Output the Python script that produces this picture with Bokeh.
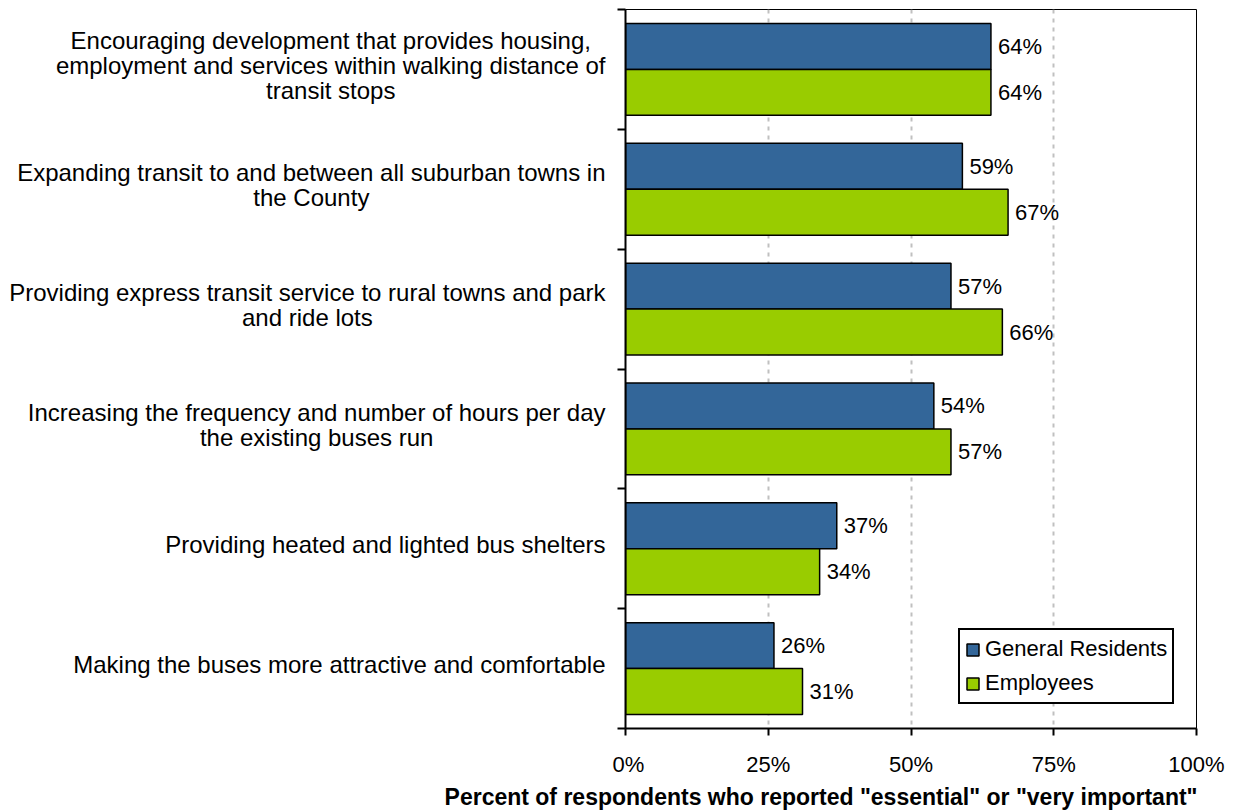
from bokeh.plotting import figure
from bokeh.models import Range1d, FixedTicker, Legend, LegendItem, ColumnDataSource
from bokeh.layouts import row, column
from bokeh.core.properties import value
from bokeh.embed import file_html
from bokeh.resources import INLINE

categories = [
    "Encouraging development that provides housing,\nemployment and services within walking distance of\ntransit stops",
    "Expanding transit to and between all suburban towns in\nthe County",
    "Providing express transit service to rural towns and park\nand ride lots",
    "Increasing the frequency and number of hours per day\nthe existing buses run",
    "Providing heated and lighted bus shelters",
    "Making the buses more attractive and comfortable",
]
residents = [64, 59, 57, 54, 37, 26]
employees = [64, 67, 66, 57, 34, 31]
series_names = ["General Residents", "Employees"]
x_ticks = [0, 25, 50, 75, 100]
x_tick_labels = ["0%", "25%", "50%", "75%", "100%"]
x_title = 'Percent of respondents who reported "essential" or "very important"'

FONT = "Liberation Sans"
BLUE = "#336699"
GREEN = "#99CC00"
CAT_FS = 24
FS = 22

# Arial/Helvetica advance widths (per 1000 em) to centre multi-line labels
_W = dict(zip("abcdefghijklmnopqrstuvwxyz",
              [556, 556, 500, 556, 556, 278, 556, 556, 222, 222, 500, 222, 833,
               556, 556, 556, 556, 333, 500, 278, 556, 500, 722, 500, 500, 500]))
_W.update(dict(zip("ABCDEFGHIJKLMNOPQRSTUVWXYZ",
                   [667, 667, 722, 722, 667, 611, 778, 722, 278, 500, 667, 556, 833,
                    722, 778, 667, 778, 722, 667, 611, 722, 667, 944, 667, 667, 611])))
_W.update({" ": 278, ",": 278, ".": 278, "-": 333})


def text_width(s, fs):
    return sum(_W.get(c, 556) for c in s) * fs / 1000.0


n = len(categories)
H = 779          # height of the chart row
TOP = 9
BOTTOM = 50
LEFT_W = 612
MAIN_W = 613
TITLE_H = 32
y_range = Range1d(n, 0)

# ---- left panel: category labels ----
lp = figure(width=LEFT_W, height=H, output_backend="svg", toolbar_location=None,
            x_range=Range1d(0, LEFT_W), y_range=y_range,
            x_axis_type=None, y_axis_type=None,
            min_border_left=0, min_border_right=0, min_border_top=TOP, min_border_bottom=BOTTOM)
lp.outline_line_color = None
lp.grid.visible = False
lp.background_fill_color = "white"
lp.border_fill_color = "white"

LH = 25
RIGHT_EDGE = 605
lx, ly, lt, lyo = [], [], [], []
for i, cat in enumerate(categories):
    lines = cat.split("\n")
    w = max(text_width(l, CAT_FS) for l in lines)
    cx = RIGHT_EDGE - w / 2
    m = len(lines)
    for k, line in enumerate(lines):
        lx.append(cx)
        ly.append(i + 0.5)
        lt.append(line)
        lyo.append((k - (m - 1) / 2) * LH - 4)
lsrc = ColumnDataSource(dict(x=lx, y=ly, t=lt, yo=lyo))
lp.text(x="x", y="y", text="t", y_offset="yo", source=lsrc,
        text_font=value(FONT), text_font_size=f"{CAT_FS}px", text_color="black",
        text_align="center", text_baseline="middle")

# ---- main plot ----
p = figure(width=MAIN_W, height=H, output_backend="svg", toolbar_location=None,
           x_range=Range1d(0, 100), y_range=y_range,
           min_border_left=13, min_border_right=29, min_border_top=TOP, min_border_bottom=BOTTOM)
p.background_fill_color = "white"
p.border_fill_color = "white"
p.outline_line_color = "black"
p.outline_line_width = 1

idx = list(range(n))
bh = 0.383
off = bh / 2
src_r = ColumnDataSource(dict(y=[i + 0.5 - off for i in idx], v=residents,
                              t=[f"{v}%" for v in residents]))
src_e = ColumnDataSource(dict(y=[i + 0.5 + off for i in idx], v=employees,
                              t=[f"{v}%" for v in employees]))

r1 = p.hbar(y="y", right="v", left=0, height=bh, source=src_r,
            fill_color=BLUE, line_color="black", line_width=1.5)
r2 = p.hbar(y="y", right="v", left=0, height=bh, source=src_e,
            fill_color=GREEN, line_color="black", line_width=1.5)

for s in (src_r, src_e):
    p.text(x="v", y="y", text="t", source=s, x_offset=7,
           text_font=value(FONT), text_font_size=f"{FS}px", text_color="black",
           text_baseline="middle", text_align="left")

# grid
p.ygrid.visible = False
p.xgrid.ticker = FixedTicker(ticks=[25, 50, 75])
p.xgrid.grid_line_color = "#c0c0c0"
p.xgrid.grid_line_width = 2
p.xgrid.grid_line_dash = "4 5"

# x axis
xa = p.xaxis[0]
xa.ticker = FixedTicker(ticks=x_ticks)
xa.major_label_overrides = {t: l for t, l in zip(x_ticks, x_tick_labels)}
xa.major_label_text_font = FONT
xa.major_label_text_font_size = f"{FS}px"
xa.major_label_text_color = "black"
xa.major_tick_out = 7
xa.major_tick_in = 0
xa.minor_tick_out = 0
xa.minor_tick_in = 0
xa.axis_line_width = 2
xa.axis_line_color = "black"
xa.major_tick_line_width = 2
xa.major_label_standoff = 16

# y axis: ticks at category boundaries only
ya = p.yaxis[0]
ya.ticker = FixedTicker(ticks=[], minor_ticks=list(range(n + 1)))
ya.major_tick_out = 0
ya.major_tick_in = 0
ya.minor_tick_out = 8
ya.minor_tick_in = 0
ya.minor_tick_line_color = "black"
ya.minor_tick_line_width = 2
ya.axis_line_width = 2
ya.axis_line_color = "black"
ya.major_label_standoff = 0

legend = Legend(items=[LegendItem(label=series_names[0], renderers=[r1]),
                       LegendItem(label=series_names[1], renderers=[r2])],
                location=(333, 24))
legend.label_text_font = FONT
legend.label_text_font_size = f"{FS}px"
legend.label_text_color = "black"
legend.glyph_width = 15
legend.glyph_height = 15
legend.label_height = 28
legend.border_line_color = "black"
legend.border_line_alpha = 1
legend.border_line_width = 2
legend.padding = 5
legend.spacing = 6
legend.label_standoff = 5
legend.margin = 0
legend.background_fill_alpha = 1
p.add_layout(legend)

# ---- axis title strip ----
TW = LEFT_W + MAIN_W
tf = figure(width=TW, height=TITLE_H, output_backend="svg", toolbar_location=None,
            x_range=Range1d(0, TW), y_range=Range1d(TITLE_H, 0),
            x_axis_type=None, y_axis_type=None,
            min_border_left=0, min_border_right=0, min_border_top=0, min_border_bottom=0)
tf.outline_line_color = None
tf.grid.visible = False
tf.background_fill_color = "white"
tf.border_fill_color = "white"
# right edge of the title aligned with the plot frame's right edge
frame_right = LEFT_W + MAIN_W - 29
tf.text(x=[frame_right + 1], y=[TITLE_H / 2 + 1], text=[x_title],
        text_font=value(FONT), text_font_size="23px", text_font_style="bold",
        text_color="black", text_align="right", text_baseline="middle")

layout = column(row(lp, p, spacing=0), tf, spacing=0)
open("out.html", "w").write(file_html(layout, INLINE))
